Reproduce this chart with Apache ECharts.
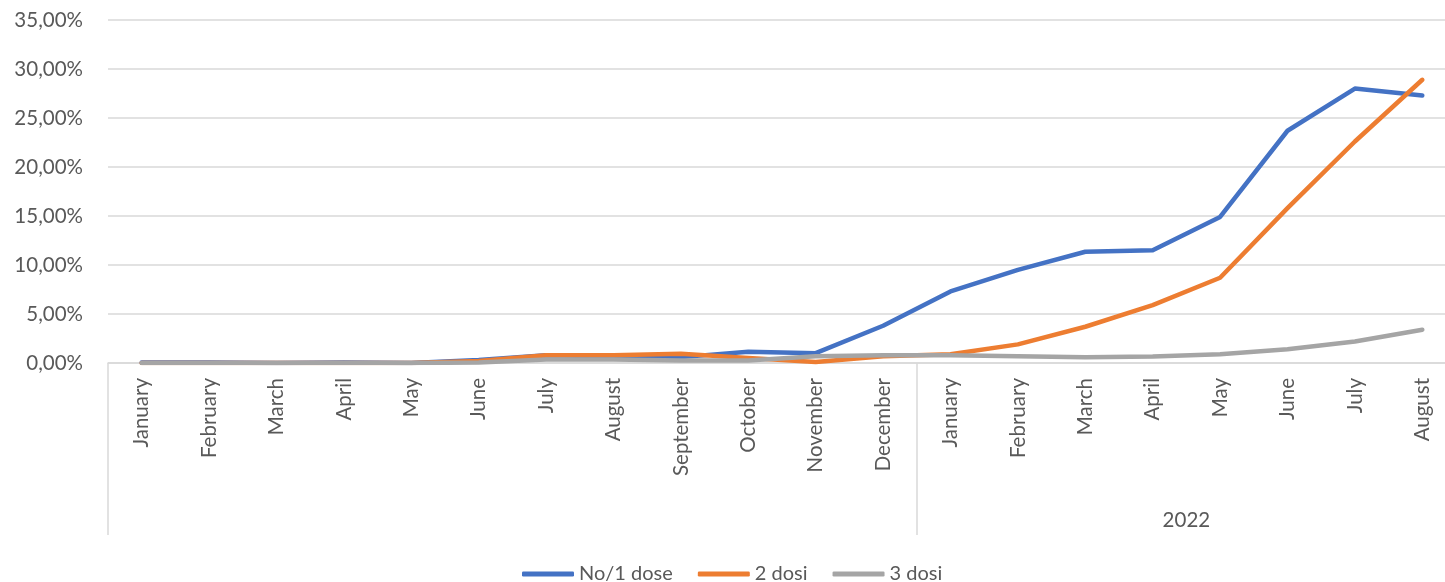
<!DOCTYPE html>
<html>
<head>
<meta charset="utf-8">
<script src="https://cdn.jsdelivr.net/npm/echarts@6/dist/echarts.min.js"></script>
<style>
html,body{margin:0;padding:0;background:#fff;overflow:hidden;width:1445px;height:582px;}
#chart{width:1460px;height:582px;}
</style>
</head>
<body>
<div id="chart"></div>
<script>
// Categories (months, two years)
const months = ['January','February','March','April','May','June','July','August','September','October','November','December',
                'January','February','March','April','May','June','July','August'];
// Year groups: label and number of months in group
const yearLabels = ['', '2022'];
const yearSpans = [12, 8];
// Y-axis ticks (percent)
const yTicks = [0, 5, 10, 15, 20, 25, 30, 35];
// Series values (percent)
const seriesNames = ['No/1 dose', '2 dosi', '3 dosi'];
const dose1 = [0.05, 0.05, 0.0, 0.05, 0.0, 0.3, 0.8, 0.7, 0.6, 1.15, 1.0, 3.8, 7.3, 9.5, 11.35, 11.5, 14.9, 23.7, 28.0, 27.3];
const dose2 = [0.0, 0.0, 0.0, 0.0, 0.0, 0.2, 0.8, 0.8, 0.95, 0.5, 0.1, 0.7, 0.9, 1.9, 3.7, 5.9, 8.7, 15.8, 22.6, 28.9];
const dose3 = [0.0, 0.0, 0.0, 0.0, 0.0, 0.05, 0.35, 0.35, 0.25, 0.25, 0.7, 0.8, 0.8, 0.7, 0.58, 0.66, 0.9, 1.4, 2.2, 3.4];

const colors = ['#4472C4', '#ED7D31', '#A5A5A5'];
const font = 'Lato, "Open Sans", sans-serif';
const textColor = '#595959';
const gridColor = '#D9D9D9';

// group boundaries and centres on a 0..N value scale
const bounds = [0];
yearSpans.forEach(s => bounds.push(bounds[bounds.length - 1] + s));
const centres = yearSpans.map((s, i) => bounds[i] + s / 2);

const chart = echarts.init(document.getElementById('chart'));
const mk = (name, data, color) => ({
  name, type: 'line', data, symbol: 'none', xAxisIndex: 0,
  lineStyle: { color, width: 4.5, cap: 'round', join: 'round' },
  itemStyle: { color }
});
chart.setOption({
  animation: false,
  color: colors,
  grid: { left: 108, top: 20, width: 1348, height: 343, containLabel: false },
  legend: {
    top: 559, left: 517,
    icon: 'roundRect', itemWidth: 52, itemHeight: 5, itemGap: 25,
    textStyle: { color: textColor, fontSize: 20, fontFamily: font },
    data: seriesNames
  },
  xAxis: [{
    type: 'category', data: months, boundaryGap: true,
    axisLine: { show: true, lineStyle: { color: gridColor, width: 1.5 } },
    axisTick: { show: false },
    axisLabel: { rotate: 90, margin: 15, color: textColor, fontSize: 20.5, fontFamily: font, interval: 0 }
  }, {
    type: 'value', position: 'bottom', min: 0, max: months.length,
    axisLine: { show: false },
    splitLine: { show: false },
    axisTick: { show: true, customValues: bounds, length: 172, inside: false, lineStyle: { color: gridColor, width: 1.5 } },
    axisLabel: {
      show: true, customValues: centres, margin: 147, color: textColor, fontSize: 20.5, fontFamily: font,
      formatter: v => { const i = centres.indexOf(v); return i >= 0 ? yearLabels[i] : ''; }
    }
  }],
  yAxis: {
    type: 'value', min: yTicks[0], max: yTicks[yTicks.length - 1], interval: yTicks[1] - yTicks[0],
    axisLine: { show: false }, axisTick: { show: false },
    splitLine: { lineStyle: { color: gridColor, width: 1.5 } },
    axisLabel: { margin: 25, color: textColor, fontSize: 20.5, fontFamily: font,
      formatter: v => v.toFixed(2).replace('.', ',') + '%' }
  },
  series: [mk(seriesNames[0], dose1, colors[0]), mk(seriesNames[1], dose2, colors[1]), mk(seriesNames[2], dose3, colors[2])]
});
</script>
</body>
</html>
